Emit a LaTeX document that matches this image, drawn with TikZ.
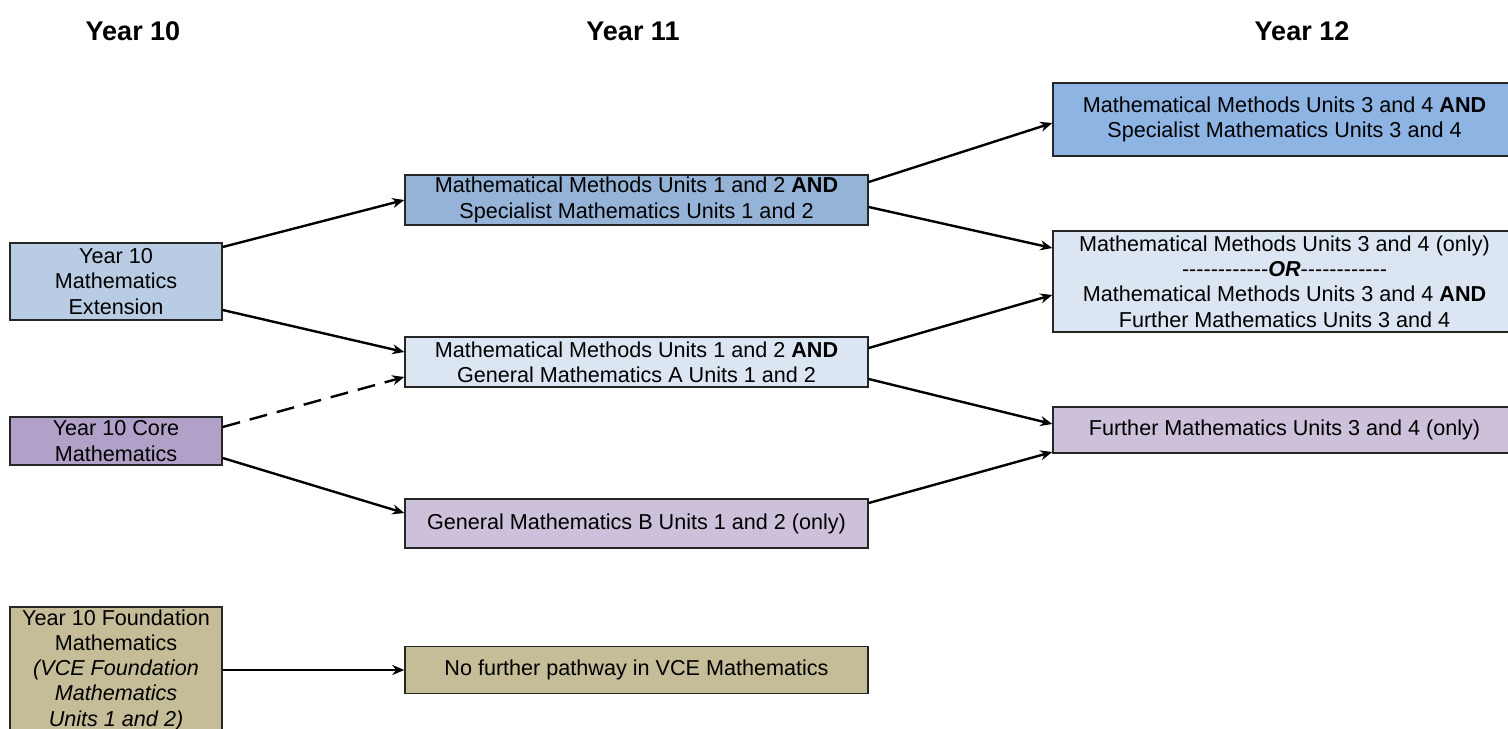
\documentclass[tikz,border=0pt]{standalone}
\usepackage{fontspec}
\setmainfont{Liberation Sans}
\usepackage{xcolor}
\usetikzlibrary{positioning, calc, arrows.meta}

\definecolor{extblue}{HTML}{B8CCE4}
\definecolor{corepurple}{HTML}{B1A0C7}
\definecolor{foundtan}{HTML}{C4BD97}
\definecolor{specblue}{HTML}{95B3D7}
\definecolor{genblue}{HTML}{DCE6F2}
\definecolor{genpurple}{HTML}{CCC0DA}
\definecolor{methblue}{HTML}{8DB4E2}

\newcommand{\orline}{-{}-{}-{}-{}-{}-{}-{}-{}-{}-{}-{}-{}\textbf{\textit{OR}}-{}-{}-{}-{}-{}-{}-{}-{}-{}-{}-{}-}

\begin{document}
\begin{tikzpicture}[x=0.5pt, y=-0.5pt,
        course/.style={draw=black!85, line width=0.7pt, align=center, inner sep=0pt,
            font=\fontsize{10.8}{12.6}\selectfont},
        yrten/.style={course, minimum width=106pt},
        yrup/.style={course, minimum width=231.5pt},
        head/.style={font=\fontsize{13.5}{16}\selectfont\bfseries},
        route/.style={line width=1.2pt, -{Stealth[length=6pt, width=5pt]}}]
    \useasboundingbox (0,0) rectangle (1508,728);
    \clip (0,0) rectangle (1508,728);

    \node[head] (h10) at (133,31) {Year 10};
    \node[head] (h11) at (633,31) {Year 11};
    \node[head] (h12) at (1302,31) {Year 12};

    \node[yrten, fill=extblue, minimum height=38.5pt] (ext) at (116,281.5) {Year 10\\Mathematics\\Extension};
    \node[yrten, fill=corepurple, minimum height=24pt] (core) at (116,441) {Year 10 Core\\Mathematics};
    \node[yrten, fill=foundtan, minimum height=63pt] (found) at (116,670)
        {Year 10 Foundation\\Mathematics\\\textit{(VCE Foundation}\\\textit{Mathematics}\\\textit{Units 1 and 2)}};

    \node[yrup, fill=specblue, minimum height=25pt] (spec) at (636.5,200)
        {Mathematical Methods Units 1 and 2 \textbf{AND}\\Specialist Mathematics Units 1 and 2};
    \node[yrup, fill=genblue, minimum height=25pt] (genA) at (636.5,362)
        {Mathematical Methods Units 1 and 2 \textbf{AND}\\General Mathematics A Units 1 and 2};
    \node[yrup, fill=genpurple, minimum height=24.5pt] (genB) at (636.5,523.5)
        {General Mathematics B Units 1 and 2 (only)};
    \node[yrup, fill=foundtan, minimum height=23.5pt] (none) at (636.5,670)
        {No further pathway in VCE Mathematics};

    \node[yrup, fill=methblue, minimum height=36.5pt] (mmsm) at (1284.5,119.5)
        {Mathematical Methods Units 3 and 4 \textbf{AND}\\Specialist Mathematics Units 3 and 4};
    \node[yrup, fill=genblue, minimum height=50.5pt] (mmfm) at (1284.5,281.5)
        {Mathematical Methods Units 3 and 4 (only)\\\orline\\Mathematical Methods Units 3 and 4 \textbf{AND}\\Further Mathematics Units 3 and 4};
    \node[yrup, fill=genpurple, minimum height=23pt] (fm) at (1284.5,430)
        {Further Mathematics Units 3 and 4 (only)};

    \draw[route] ($(ext.east)+(0,-34.5)$) -- (spec.west);
    \draw[route] ($(ext.east)+(0,28.5)$) -- ($(genA.west)+(0,-10)$);
    \draw[route, dash pattern=on 9pt off 5pt] ($(core.east)+(0,-14)$) -- ($(genA.west)+(0,15)$);
    \draw[route] ($(core.east)+(0,17)$) -- ($(genB.west)+(0,-10.5)$);
    \draw[route] (found) -- (none);

    \draw[route] ($(spec.east)+(0,-18)$) -- ($(mmsm.west)+(0,3.5)$);
    \draw[route] ($(spec.east)+(0,7)$) -- ($(mmfm.west)+(0,-33.5)$);
    \draw[route] ($(genA.east)+(0,-14)$) -- ($(mmfm.west)+(0,13.5)$);
    \draw[route] ($(genA.east)+(0,17)$) -- ($(fm.west)+(0,-6)$);
    \draw[route] ($(genB.east)+(0,-20.5)$) -- ($(fm.west)+(0,22)$);
\end{tikzpicture}
\end{document}
